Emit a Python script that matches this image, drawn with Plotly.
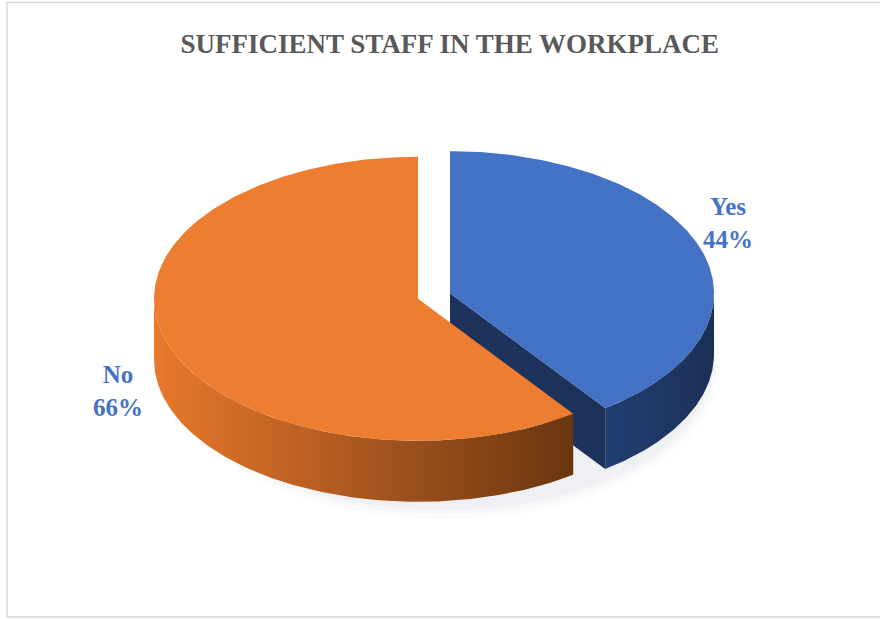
import numpy as np
import plotly.graph_objects as go

# Survey answers
labels = ["Yes", "No"]
values = [44, 66]
top_colors = ["#4472C4", "#ED7D31"]
wall_colors = [["#223F72", "#1B3057"], ["#E8782C", "#6A3610"]]
cut_colors = ["#1D335C", "#6A3610"]
label_colors = ["#4472C4", "#4472C4"]

W, H = 880, 619
CX, CY = 434, 296        # pie centre (px)
RX, RY = 264, 142        # top-face ellipse radii (px)
DEPTH = 61               # height of the pie wall (px)
EXPLODE = 16.8           # slice pull-out along the bisector (px)

total = float(sum(values))
fig = go.Figure()


def pt(theta_deg, cx, cy, dz=0.0):
    t = np.radians(theta_deg)
    return cx + RX * np.sin(t), cy - RY * np.cos(t) + dz


slices = []
start = 0.0
for lab, v in zip(labels, values):
    sweep = 360.0 * v / total
    a, b = start, start + sweep
    mid = np.radians((a + b) / 2)
    cx = CX + EXPLODE * np.sin(mid)
    cy = CY - EXPLODE * np.cos(mid) * RY / RX
    slices.append((a, b, cx, cy))
    start = b


def add_poly(xs, ys, color=None, gradient=None):
    kw = dict(x=list(xs) + [xs[0]], y=list(ys) + [ys[0]], mode="lines",
              fill="toself", line=dict(width=0), hoverinfo="skip",
              showlegend=False)
    if gradient:
        kw["fillgradient"] = dict(type="horizontal",
                                  colorscale=[[0, gradient[0]], [1, gradient[1]]])
    else:
        kw["fillcolor"] = color
    fig.add_trace(go.Scatter(**kw))


# soft shadow under the front of the pie
for grow, alpha in [(12, 0.03), (7, 0.04), (3, 0.05)]:
    ths = np.linspace(90, 270, 160)
    sx = CX + 10 + (RX + grow) * np.sin(np.radians(ths))
    sy = CY + DEPTH + 8 - (RY + grow) * np.cos(np.radians(ths))
    add_poly(sx, sy, color=f"rgba(120,130,150,{alpha})")

# blue first, orange painted over it where they overlap
for i in range(len(values)):
    a, b, cx, cy = slices[i]
    # cut face on the clockwise edge (visible when it faces the viewer)
    if 90 < b < 270:
        ex, ey = pt(b, cx, cy)
        add_poly([cx, ex, ex, cx], [cy, ey, ey + DEPTH, cy + DEPTH],
                 color=cut_colors[i])
    # outer wall (front half only)
    wa, wb = max(a, 90), min(b, 270)
    if wb > wa:
        th = np.linspace(wa, wb, 160)
        tx, ty = pt(th, cx, cy)
        bx, by = pt(th[::-1], cx, cy, DEPTH)
        add_poly(np.concatenate([tx, bx]), np.concatenate([ty, by]),
                 gradient=wall_colors[i])
    # top face
    th = np.linspace(a, b, 200)
    tx, ty = pt(th, cx, cy)
    add_poly(np.concatenate([[cx], tx]), np.concatenate([[cy], ty]),
             color=top_colors[i])

# labels with percentages
label_pos = [(728, 223), (118, 391)]
for lab, v, (lx, ly), c in zip(labels, values, label_pos, label_colors):
    fig.add_annotation(x=lx, y=ly, xref="x", yref="y", showarrow=False,
                       text=f"<b>{lab}<br>{v}%</b>",
                       font=dict(family="Liberation Serif", size=25, color=c),
                       align="center")

fig.update_layout(
    width=W, height=H,
    margin=dict(l=0, r=0, t=0, b=0),
    paper_bgcolor="white", plot_bgcolor="white",
    title=dict(text="<b>SUFFICIENT STAFF IN THE WORKPLACE</b>",
               x=0.511, xanchor="center", y=1 - 44 / H, yanchor="middle",
               font=dict(family="Liberation Serif", size=27, color="#595959")),
    xaxis=dict(range=[0, W], visible=False, fixedrange=True),
    yaxis=dict(range=[H, 0], visible=False, fixedrange=True),
    showlegend=False,
    shapes=[dict(type="rect", xref="paper", yref="paper",
                 x0=7 / W, x1=1.01, y0=1 - 617 / H, y1=1 - 2.5 / H,
                 line=dict(color="#D9D9D9", width=1.5), layer="above")],
)

fig.write_html("out.html")
